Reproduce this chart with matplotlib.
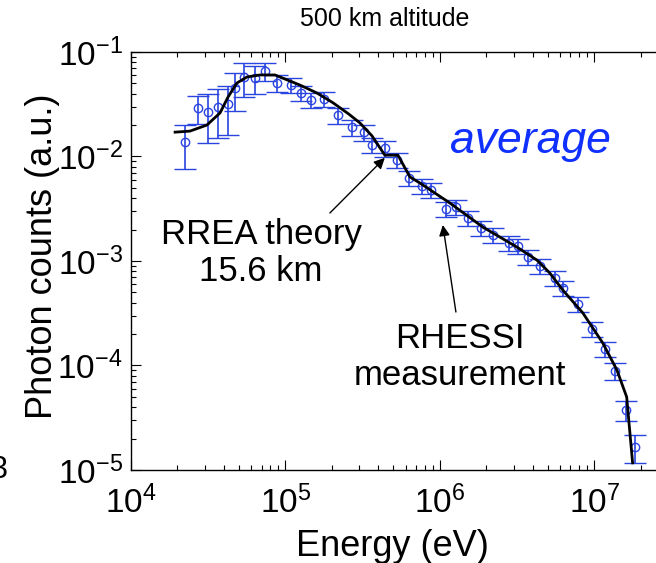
import numpy as np
import matplotlib
matplotlib.use('Agg')
import matplotlib.pyplot as plt
from matplotlib.ticker import LogLocator, FuncFormatter, NullFormatter

plt.rcParams['font.family'] = ['Liberation Sans', 'DejaVu Sans']
plt.rcParams['mathtext.fontset'] = 'custom'
plt.rcParams['mathtext.rm'] = 'Liberation Sans'
plt.rcParams['mathtext.it'] = 'Liberation Sans:italic'
plt.rcParams['mathtext.default'] = 'regular'

# RHESSI measurement (average spectrum)
energy = [2.24e4, 2.72e4, 3.15e4, 3.65e4, 4.24e4, 4.71e4, 5.38e4, 6.35e4, 7.37e4, 8.81e4,
          1.087e5, 1.26e5, 1.46e5, 1.77e5, 2.19e5, 2.69e5, 3.22e5, 3.63e5, 4.40e5, 5.27e5,
          6.30e5, 7.64e5, 8.74e5, 1.094e6, 1.27e6, 1.52e6, 1.84e6, 2.20e6, 2.80e6, 3.20e6,
          3.71e6, 4.44e6, 5.55e6, 6.25e6, 7.82e6, 9.63e6, 1.17e7, 1.36e7, 1.60e7, 1.83e7]
counts = [1.38e-2, 2.91e-2, 2.67e-2, 2.98e-2, 3.18e-2, 4.53e-2, 5.77e-2, 5.64e-2, 6.58e-2, 5.05e-2,
          4.83e-2, 4.05e-2, 3.48e-2, 3.55e-2, 2.49e-2, 1.91e-2, 1.71e-2, 1.29e-2, 1.20e-2, 9.26e-3,
          6.23e-3, 5.22e-3, 4.78e-3, 3.15e-3, 3.29e-3, 2.58e-3, 2.07e-3, 1.77e-3, 1.49e-3, 1.39e-3,
          1.09e-3, 8.95e-4, 6.87e-4, 5.52e-4, 3.88e-4, 2.24e-4, 1.44e-4, 8.86e-5, 3.75e-5, 1.66e-5]
rel_err = [0.45, 0.30, 0.50, 0.50, 0.50, 0.40, 0.35, 0.30, 0.20, 0.18,
           0.17, 0.17, 0.17, 0.17, 0.17, 0.17, 0.17, 0.17, 0.17, 0.17,
           0.17, 0.16, 0.16, 0.16, 0.16, 0.16, 0.16, 0.16, 0.16, 0.16,
           0.16, 0.16, 0.16, 0.16, 0.16, 0.16, 0.17, 0.18, 0.22, 0.30]

# RREA theory, 15.6 km
theory_energy = [1.93e4, 2.41e4, 3.10e4, 3.77e4, 4.25e4, 4.85e4, 5.64e4, 6.84e4, 8.55e4,
                 1.24e5, 1.60e5, 2.03e5, 2.56e5, 3.03e5, 3.63e5, 4.40e5, 5.35e5, 6.40e5,
                 7.43e5, 1.16e6, 1.90e6, 3.15e6, 4.25e6, 5.15e6, 6.25e6, 8.43e6, 1.135e7,
                 1.40e7, 1.62e7, 1.77e7]
theory_counts = [1.71e-2, 1.75e-2, 2.00e-2, 2.61e-2, 3.71e-2, 5.05e-2, 5.77e-2, 6.03e-2, 6.03e-2,
                 4.83e-2, 4.05e-2, 3.27e-2, 2.56e-2, 2.10e-2, 1.58e-2, 1.03e-2, 1.03e-2, 6.37e-3,
                 5.57e-3, 3.59e-3, 2.11e-3, 1.36e-3, 1.02e-3, 7.67e-4, 5.27e-4, 3.18e-4, 1.64e-4,
                 9.06e-5, 5.00e-5, 1.17e-5]

title_text = '500 km altitude'
xlabel_text = 'Energy (eV)'
ylabel_text = 'Photon counts (a.u.)'
theory_label = 'RREA theory\n15.6 km'
meas_label = 'RHESSI\nmeasurement'
avg_label = 'average'
edge_fragment = '3'

blue = '#2a44e0'
W, H = 656, 563

fig = plt.figure(figsize=(W / 100, H / 100), dpi=100)
# axis extends past the right edge of the picture (cropped in the reference)
ax = fig.add_axes([131 / W, 1 - 470 / H, 537 / W, 418 / H])
ax.set_xscale('log')
ax.set_yscale('log')

err = np.array(rel_err) * np.array(counts)
ax.errorbar(energy, counts, yerr=err, fmt='o', mfc='none', mec=blue, mew=1.0, ms=6,
            ecolor=blue, elinewidth=1.2, capsize=8, capthick=1.2, zorder=2, clip_on=False)
ax.plot(theory_energy, theory_counts, color='black', lw=2.0, zorder=3)

ax.set_xlim(1e4, 3e7)
ax.set_ylim(1e-5, 1e-1)

fmt = FuncFormatter(lambda v, p: r'$10^{%d}$' % int(round(np.log10(v))))
ax.xaxis.set_major_locator(LogLocator(base=10, numticks=10))
ax.yaxis.set_major_locator(LogLocator(base=10, numticks=10))
ax.xaxis.set_minor_locator(LogLocator(base=10, subs=np.arange(2, 10), numticks=20))
ax.yaxis.set_minor_locator(LogLocator(base=10, subs=np.arange(2, 10), numticks=20))
ax.xaxis.set_major_formatter(fmt)
ax.yaxis.set_major_formatter(fmt)
ax.xaxis.set_minor_formatter(NullFormatter())
ax.yaxis.set_minor_formatter(NullFormatter())
ax.tick_params(which='both', direction='in', top=True, right=True, width=0.8)
ax.tick_params(which='major', length=7, labelsize=24)
ax.tick_params(axis='y', which='major', pad=6)
ax.tick_params(axis='x', which='major', pad=11)
ax.tick_params(which='minor', length=3.5)
for s in ax.spines.values():
    s.set_linewidth(1.0)

ax.set_xlabel(xlabel_text, fontsize=26)
ax.xaxis.set_label_coords(392 / W, 1 - 529 / H, transform=fig.transFigure)
ax.set_ylabel(ylabel_text, fontsize=26)
ax.yaxis.set_label_coords(60 / W, 1 - 256 / H, transform=fig.transFigure)
fig.text(385 / W, 1 - 19 / H, title_text, fontsize=18, ha='center', va='center')

# annotations
fig.text(261 / W, 1 - 253 / H, theory_label, fontsize=25, ha='center', va='center',
         linespacing=1.15)
fig.text(460 / W, 1 - 357 / H, meas_label, fontsize=25, ha='center', va='center',
         linespacing=1.15)
fig.text(530 / W, 1 - 153 / H, avg_label, fontsize=32, style='italic', color='#1030ff',
         ha='center', va='baseline')
# fragment of a neighbouring panel label, cut by the left edge
fig.text(-9 / W, 1 - 470 / H, edge_fragment, fontsize=22, ha='left', va='center')

theory_arrow_head = (4.4e5, 9.7e-3)
theory_arrow_tail = (1.94e5, 2.88e-3)
meas_arrow_head = (1.045e6, 2.21e-3)
meas_arrow_tail = (1.27e6, 3.25e-4)
ap = dict(arrowstyle='-|>', color='black', lw=1.0, mutation_scale=16, shrinkA=0, shrinkB=0)
ax.annotate('', xy=theory_arrow_head, xytext=theory_arrow_tail, arrowprops=ap)
ax.annotate('', xy=meas_arrow_head, xytext=meas_arrow_tail, arrowprops=ap)

fig.savefig('out.png', dpi=100)
